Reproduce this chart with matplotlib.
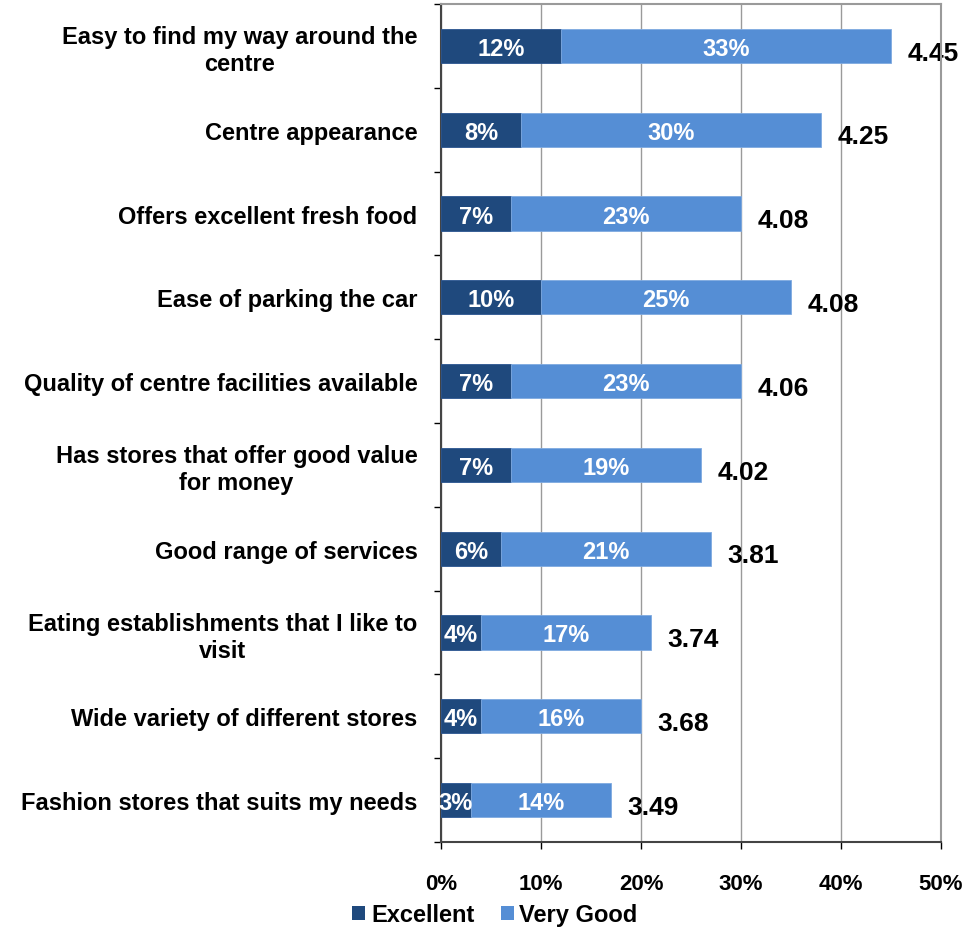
import matplotlib
matplotlib.use("Agg")
import matplotlib.pyplot as plt
from matplotlib.patches import Patch
from matplotlib.ticker import FixedLocator, FuncFormatter

plt.rcParams['font.family'] = ['Liberation Sans', 'DejaVu Sans']
plt.rcParams['font.weight'] = 'bold'

categories = [
    "Easy to find my way around the\ncentre",
    "Centre appearance",
    "Offers excellent fresh food",
    "Ease of parking the car",
    "Quality of centre facilities available",
    "Has stores that offer good value\nfor money",
    "Good range of services",
    "Eating establishments that I like to\nvisit",
    "Wide variety of different stores",
    "Fashion stores that suits my needs",
]
excellent = [12, 8, 7, 10, 7, 7, 6, 4, 4, 3]
very_good = [33, 30, 23, 25, 23, 19, 21, 17, 16, 14]
mean_scores = [4.45, 4.25, 4.08, 4.08, 4.06, 4.02, 3.81, 3.74, 3.68, 3.49]
x_ticks = [0, 10, 20, 30, 40, 50]

dark = "#1F497D"
light = "#558ED5"

fig = plt.figure(figsize=(9.78, 9.29), dpi=100)
ax = fig.add_axes([441 / 978, 1 - 843 / 929, 500 / 978, 838 / 929])

ypos = list(range(len(categories)))
bar_h = 0.41
ax.barh(ypos, excellent, height=bar_h, color=dark, edgecolor="#2A5590", linewidth=0.6, zorder=3)
ax.barh(ypos, very_good, left=excellent, height=bar_h, color=light, edgecolor="#7FAAE0",
        linewidth=0.6, zorder=3)

for y, e, v, s in zip(ypos, excellent, very_good, mean_scores):
    ax.text(e / 2, y, f"{e}%", ha="center", va="center_baseline", color="white",
            fontsize=17, fontweight="bold", zorder=4)
    ax.text(e + v / 2, y, f"{v}%", ha="center", va="center_baseline", color="white",
            fontsize=17, fontweight="bold", zorder=4)
    ax.annotate(f"{s:.2f}", xy=(e + v, y), xytext=(12, -3), textcoords="offset points",
                ha="left", va="center_baseline", fontsize=19, fontweight="bold",
                color="black", zorder=2)

ax.set_xlim(0, 50)
ax.set_ylim(len(categories) - 0.5, -0.5)

ax.set_xticks(x_ticks)
ax.xaxis.set_major_formatter(FuncFormatter(lambda v, p: f"{v:.0f}%"))
ax.tick_params(axis="x", length=5, width=1, direction="out", pad=17, labelsize=16, color="black")
ax.xaxis.grid(True, color="#9A9A9A", linewidth=1, zorder=0)
ax.set_axisbelow(True)

ax.set_yticks(ypos)
ax.set_yticklabels(categories, fontsize=17, fontweight="bold", ha="right", multialignment="center")
ax.tick_params(axis="y", which="major", length=0, pad=17)
ax.yaxis.set_minor_locator(FixedLocator([i - 0.5 for i in range(len(categories) + 1)]))
ax.tick_params(axis="y", which="minor", length=5, width=1, direction="out", color="black")

ax.spines["left"].set_color("#444444")
ax.spines["left"].set_linewidth(1.5)
ax.spines["bottom"].set_color("#444444")
ax.spines["bottom"].set_linewidth(1.5)
ax.spines["top"].set_color("#9A9A9A")
ax.spines["top"].set_linewidth(1.5)
ax.spines["right"].set_color("#9A9A9A")
ax.spines["right"].set_linewidth(1.5)

handles = [Patch(facecolor=dark, label="Excellent"), Patch(facecolor=light, label="Very Good")]
fig.legend(handles=handles, loc="center", bbox_to_anchor=(495 / 978, 1 - 916 / 929), ncol=2,
           frameon=False, prop={"size": 17, "weight": "bold"}, handlelength=0.55, handleheight=0.55,
           handletextpad=0.25, columnspacing=1.1, borderpad=0.1)

fig.savefig("out.png", dpi=100)
